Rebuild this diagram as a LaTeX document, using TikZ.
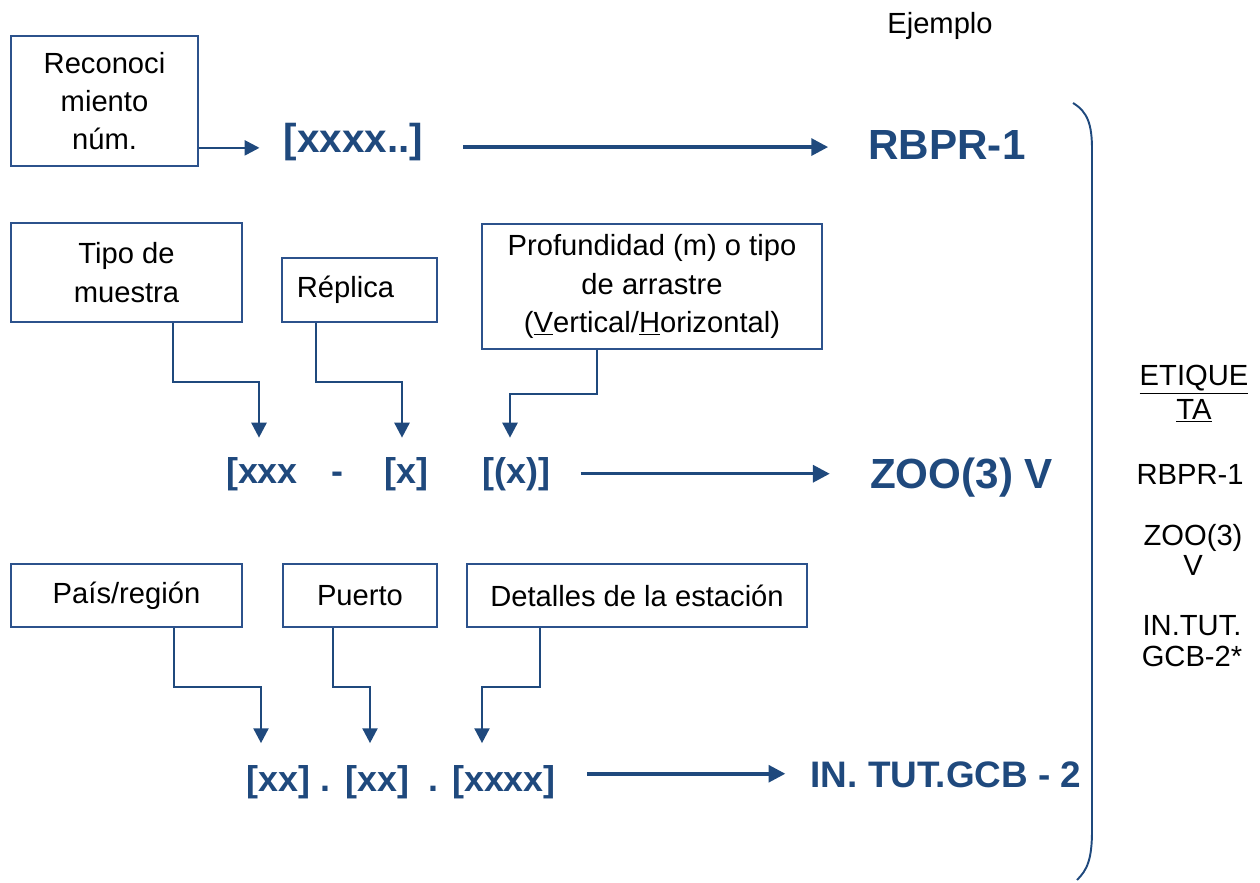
\documentclass[tikz,border=0pt]{standalone}
\usepackage{fontspec}
\setmainfont{Liberation Sans}
\usepackage{tikz}
\usetikzlibrary{calc,arrows.meta}

\definecolor{codeblue}{RGB}{31,73,125}
\definecolor{boxblue}{RGB}{44,82,140}

\tikzset{
    caja/.style={draw=boxblue, line width=1pt, align=center, inner sep=0pt,
        font=\fontsize{16.6}{21.8}\selectfont},
    codigo/.style={text=codeblue, inner sep=0pt, anchor=base,
        font=\bfseries\fontsize{20.4}{24}\selectfont},
    grande/.style={text=codeblue, inner sep=0pt, anchor=base,
        font=\bfseries\fontsize{24}{28}\selectfont},
    etiqueta/.style={align=center, inner sep=0pt,
        font=\fontsize{16.6}{17.2}\selectfont},
    conn/.style={draw=codeblue, line width=1.5pt, -{Triangle[length=8.5pt,width=8.5pt]}},
    flecha/.style={draw=codeblue, line width=2pt, -{Triangle[length=9.6pt,width=9.6pt]}}
}

\begin{document}
\begin{tikzpicture}[x=0.02cm,y=-0.02cm]
    \useasboundingbox (0,0) rectangle (1260,882);

    \node[etiqueta, anchor=base] (ejemplo) at (940,34) {Ejemplo};

    % cajas
    \node[caja, minimum width=3.74cm, minimum height=2.6cm] (recon) at (104.5,101) {Reconoci\\miento\\núm.};
    \node[caja, minimum width=4.62cm, minimum height=1.98cm] (tipo) at (126.5,272.5) {Tipo de\\muestra};
    \node[caja, minimum width=3.1cm, minimum height=1.28cm] (replica) at (359.5,290) {Réplica\hspace{16pt}};
    \node[caja, minimum width=6.8cm, minimum height=2.5cm] (prof) at (652,286.5)
        {Profundidad (m) o tipo\\de arrastre\\(\underline{V}ertical/\underline{H}orizontal)};
    \node[caja, minimum width=4.62cm, minimum height=1.26cm] (pais) at (126.5,595.5) {País/región};
    \node[caja, minimum width=3.08cm, minimum height=1.26cm] (puerto) at (360,595.5) {Puerto};
    \node[caja, minimum width=6.8cm, minimum height=1.26cm] (detalles) at (637,595.5) {Detalles de la estación};

    % codigos
    \node[codigo, font=\bfseries\fontsize{23}{28}\selectfont] (c0) at (353.5,153) {[xxxx..]};
    \node[codigo] (c1) at (262,483) {[xxx};
    \node[codigo] (c2) at (337,483) {-};
    \node[codigo] (c3) at (406.5,483) {[x]};
    \node[codigo] (c4) at (516.5,483) {[(x)]};
    \node[codigo] (d1) at (278.5,791) {[xx]};
    \node[codigo] (d2) at (325,791) {.};
    \node[codigo] (d3) at (377.5,791) {[xx]};
    \node[codigo] (d4) at (433,791) {.};
    \node[codigo] (d5) at (504,791) {[xxxx]};

    \node[grande] (e1) at (947,159) {RBPR-1};
    \node[grande] (e2) at (961.5,488) {ZOO(3) V};
    \node[grande, font=\bfseries\fontsize{21}{25}\selectfont] (e3) at (946,787) {IN. TUT.GCB - 2};

    % conectores
    \coordinate (r0) at ($(recon.south east)+(0,-19)$);
    \draw[conn] (r0) -- ($(c0.west |- r0)+(-24,0)$);
    \draw[conn] ($(tipo.south)+(46.5,0)$) -- ++(0,59) -| ([shift={(-3,-19)}]c1.north);
    \draw[conn] ($(replica.south)+(-43.5,0)$) -- ++(0,59) -| ([shift={(-4.5,-19)}]c3.north);
    \draw[conn] ($(prof.south)+(-55,0)$) -- ++(0,44) -| ([shift={(-6.5,-19)}]c4.north);
    \draw[conn] ($(pais.south)+(47.5,0)$) -- ++(0,59) -| ([shift={(-17.5,-21.5)}]d1.north);
    \draw[conn] ($(puerto.south)+(-27,0)$) -- ++(0,59) -| ([shift={(-7.5,-21.5)}]d3.north);
    \draw[conn] ($(detalles.south)+(-97,0)$) -- ++(0,59) -| ([shift={(-22,-21.5)}]d5.north);

    \draw[flecha] ($(c0.east)+(40,4.5)$) -- ($(c0.east -| e1.west)+(-40,4.5)$);
    \draw[flecha] ($(c4.east)+(30,0)$) -- ($(c4.east -| e2.west)+(-40,0)$);
    \draw[flecha] ($(d5.east)+(31,-8)$) -- ($(d5.east -| e3.west)+(-25,-8)$);

    % llave
    \draw[codeblue, line width=1.1pt] (1073,103) .. controls (1088,112) and (1092,125) .. (1092,150)
        -- (1092,830) .. controls (1092,860) and (1087,870) .. (1077,880);

    % columna de etiquetas
    \node[etiqueta] (l0) at (1194,394) {\underline{ETIQUE}\\[2pt]\underline{TA}};
    \node[etiqueta] (l1) at (1190,474) {RBPR-1};
    \node[etiqueta] (l2) at (1193,550) {ZOO(3)\\V};
    \node[etiqueta] (l3) at (1192,641) {IN.TUT.\\GCB-2*};
\end{tikzpicture}
\end{document}
